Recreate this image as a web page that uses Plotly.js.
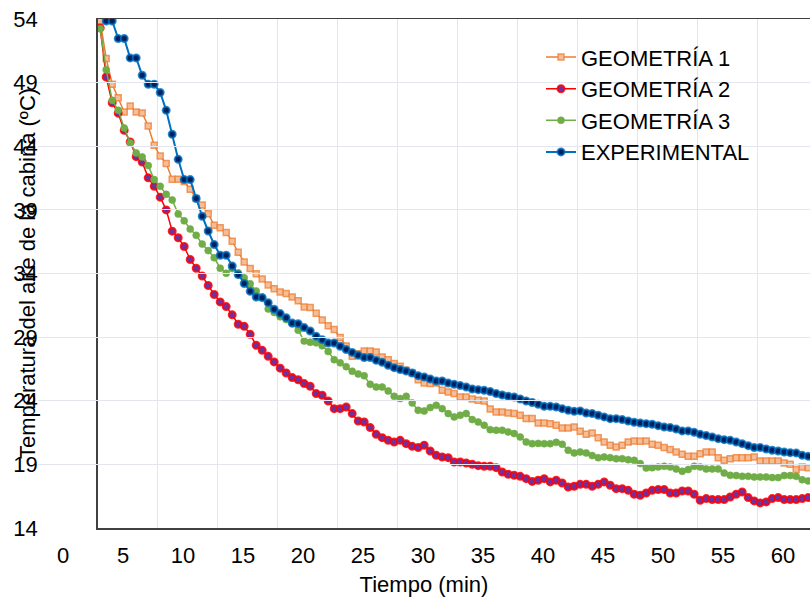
<!DOCTYPE html>
<html>
<head>
<meta charset="utf-8">
<script src="https://cdn.plot.ly/plotly-3.0.1.min.js"></script>
<style>html,body{margin:0;padding:0;background:#fff;}#chart{width:810px;height:601px;}</style>
</head>
<body>
<div id="chart"></div>
<script>
// Time (min)
const time = [3.1,3.6,4.1,4.6,5.1,5.6,6.1,6.6,7.1,7.6,8.1,8.6,9.1,9.6,10.1,10.6,11.1,11.6,12.1,12.6,13.1,13.6,14.1,14.6,15.1,15.6,16.1,16.6,17.1,17.6,18.1,18.6,19.1,19.6,20.1,20.6,21.1,21.6,22.1,22.6,23.1,23.6,24.1,24.6,25.1,25.6,26.1,26.6,27.1,27.6,28.1,28.6,29.1,29.6,30.1,30.6,31.1,31.6,32.1,32.6,33.1,33.6,34.1,34.6,35.1,35.6,36.1,36.6,37.1,37.6,38.1,38.6,39.1,39.6,40.1,40.6,41.1,41.6,42.1,42.6,43.1,43.6,44.1,44.6,45.1,45.6,46.1,46.6,47.1,47.6,48.1,48.6,49.1,49.6,50.1,50.6,51.1,51.6,52.1,52.6,53.1,53.6,54.1,54.6,55.1,55.6,56.1,56.6,57.1,57.6,58.1,58.6,59.1,59.6,60.1,60.6,61.1,61.6,62.1];

const geometria1 = [53.84,50.9,48.87,47.82,46.69,47.16,46.69,46.61,45.59,44.07,43.23,42.64,41.4,41.4,41.23,40.62,39.9,39.38,38.7,37.79,37.6,37.23,36.54,35.67,34.9,34.4,33.99,33.57,33.1,32.81,32.55,32.42,32.16,31.86,31.37,31.32,30.88,30.35,29.9,29.6,28.98,28.3,27.5,27.7,27.91,27.91,27.83,27.44,27.23,26.92,26.71,26.39,26.18,25.66,25.4,25.35,25.4,24.82,24.69,24.56,24.3,24.3,24.14,24.04,23.98,23.35,23.12,23.12,23.04,22.99,22.86,22.6,22.6,22.25,22.25,22.2,22.07,21.86,21.86,21.94,21.6,21.36,21.47,21.1,20.76,20.5,20.37,20.5,20.76,20.84,20.82,20.84,20.58,20.5,20.32,20.16,19.97,19.79,19.63,19.63,19.84,19.97,19.97,19.53,19.32,19.45,19.53,19.53,19.53,19.58,19.27,19.27,19.27,19.27,19.11,19.01,18.59,18.8,18.74];

const geometria2 = [53.3,49.44,47.42,46.6,45.25,44.34,43.18,42.76,41.52,40.85,40.0,39.0,37.33,36.81,36.12,35.1,34.41,33.8,33.06,32.35,31.77,31.4,30.75,30.01,29.85,29.22,28.36,27.96,27.49,27.05,26.56,26.18,25.82,25.65,25.35,25.14,24.56,24.43,23.98,23.38,23.38,23.51,22.99,22.41,22.33,21.89,21.36,21.1,20.89,20.76,20.89,20.63,20.42,20.32,20.5,20.05,19.71,19.58,19.53,19.19,19.19,19.11,19.01,18.9,18.85,18.85,18.74,18.4,18.22,18.14,18.06,17.88,17.66,17.75,17.88,17.62,17.75,17.54,17.22,17.28,17.43,17.43,17.28,17.43,17.62,17.36,17.09,17.09,16.96,16.65,16.57,16.75,16.96,17.02,17.02,16.75,16.75,16.91,16.91,16.65,16.18,16.31,16.23,16.23,16.23,16.44,16.65,16.83,16.39,16.13,15.97,16.05,16.31,16.39,16.23,16.23,16.23,16.31,16.39];

const geometria3 = [53.24,50.02,47.61,46.83,45.44,44.26,43.47,43.16,42.48,41.38,40.85,40.22,39.78,38.68,38.14,37.49,37.0,36.31,35.8,35.24,34.42,34.02,34.4,34.05,33.66,33.2,32.62,32.15,31.21,30.94,30.6,30.38,30.05,29.54,28.69,28.6,28.55,28.32,27.87,27.23,26.98,26.68,26.32,26.1,25.96,25.29,25.08,25.08,24.77,24.35,24.17,24.35,23.83,23.25,23.2,23.46,23.64,23.38,22.99,22.73,22.86,22.99,22.52,22.33,22.07,21.73,21.68,21.68,21.55,21.42,21.15,20.76,20.63,20.65,20.63,20.63,20.73,20.58,20.11,19.9,19.97,19.9,19.69,19.53,19.58,19.53,19.45,19.45,19.37,19.32,19.06,18.72,18.74,18.8,18.85,18.8,18.64,18.46,18.59,18.85,18.8,18.64,18.64,18.64,18.32,18.14,18.12,18.06,18.06,18.01,18.01,18.01,17.96,17.96,18.12,18.12,18.06,17.8,17.7];

const experimental = [null,53.84,53.84,52.46,52.46,50.94,50.94,49.58,48.87,48.87,48.22,46.82,44.94,42.97,41.38,41.38,39.89,38.5,37.34,36.27,35.43,35.43,34.59,33.91,33.21,32.6,32.15,32.1,31.71,31.2,30.85,30.53,30.11,30.06,29.75,29.48,29.06,28.8,28.54,28.54,28.28,28.02,27.8,27.57,27.39,27.39,27.18,27.02,26.79,26.6,26.45,26.34,26.18,25.97,25.87,25.71,25.55,25.55,25.39,25.29,25.19,25.08,24.92,24.87,24.82,24.72,24.56,24.45,24.35,24.29,24.14,23.98,23.86,23.72,23.56,23.56,23.51,23.38,23.25,23.17,23.2,23.04,22.99,22.86,22.73,22.59,22.59,22.52,22.41,22.31,22.25,22.2,22.15,22.04,21.94,21.89,21.78,21.63,21.63,21.52,21.36,21.26,21.15,21.02,20.94,20.89,20.76,20.63,20.47,20.32,20.32,20.21,20.11,20.05,19.97,19.92,19.9,19.71,19.63];

const seriesNames = ['GEOMETRÍA 1', 'GEOMETRÍA 2', 'GEOMETRÍA 3', 'EXPERIMENTAL'];
const xTickVals = [0,5,10,15,20,25,30,35,40,45,50,55,60];
const xTickText = ['0','5','10','15','20','25','30','35','40','45','50','55','60'];
const yTickVals = [14,19,24,29,34,39,44,49,54];
const yTickText = ['14','19','24','29','34','39','44','49','54'];

const FONT = 'Arial, "Liberation Sans", sans-serif';
const GRID = '#e3e6ee';

const traces = [
  {
    x: time, y: geometria1, name: seriesNames[0], type: 'scatter', mode: 'lines+markers',
    line: {color: '#ED7D31', width: 1.5},
    marker: {symbol: 'square', size: 6, color: '#F6BE98', line: {color: 'rgba(237,125,49,0.75)', width: 1.5}}
  },
  {
    x: time, y: geometria2, name: seriesNames[1], type: 'scatter', mode: 'lines+markers',
    line: {color: '#FF0000', width: 1.5},
    marker: {symbol: 'circle', size: 7, color: '#7030A0', line: {color: 'rgba(255,0,0,0.85)', width: 2}}
  },
  {
    x: time, y: geometria3, name: seriesNames[2], type: 'scatter', mode: 'lines+markers',
    line: {color: '#70AD47', width: 1.5},
    marker: {symbol: 'circle', size: 7, color: '#70AD47', line: {color: 'rgba(112,173,71,0.6)', width: 1}}
  },
  {
    x: time, y: experimental, name: seriesNames[3], type: 'scatter', mode: 'lines+markers',
    line: {color: '#0070C0', width: 2},
    marker: {symbol: 'circle', size: 7, color: '#002060', line: {color: 'rgba(0,112,192,0.8)', width: 2}}
  },
  // carrier traces for the label axis and the title axis
  {x: [], y: [], xaxis: 'x2', yaxis: 'y', showlegend: false, hoverinfo: 'skip', type: 'scatter'},
  {x: [], y: [], xaxis: 'x', yaxis: 'y2', showlegend: false, hoverinfo: 'skip', type: 'scatter'}
];

const W = 810, H = 601;
const plotLeft = 97.7;
const labelAxisLeft = 38;
const pxPerMin = 12;
const zeroPx = 63;

const layout = {
  width: W, height: H,
  margin: {l: 0, r: 0, t: 18.7, b: 73.3, pad: 0},
  paper_bgcolor: '#ffffff', plot_bgcolor: 'rgba(0,0,0,0)',
  font: {family: FONT, size: 22, color: '#000000'},
  showlegend: true,
  legend: {
    x: 541 / W, xanchor: 'left', y: 0.966, yanchor: 'top',
    bgcolor: 'rgba(0,0,0,0)', borderwidth: 0,
    font: {family: FONT, size: 22, color: '#000000'}
  },
  xaxis: {
    domain: [plotLeft / W, 1],
    range: [(plotLeft - zeroPx) / pxPerMin, (W - zeroPx) / pxPerMin],
    autorange: false,
    tick0: (plotLeft - zeroPx) / pxPerMin, dtick: 5,
    showticklabels: false, ticks: '',
    showgrid: true, gridcolor: GRID, gridwidth: 1,
    zeroline: false,
    showline: true, linecolor: '#404040', linewidth: 1.5, mirror: true,
    anchor: 'y'
  },
  xaxis2: {
    domain: [labelAxisLeft / W, 1],
    anchor: 'free', position: 0,
    range: [(labelAxisLeft - zeroPx) / pxPerMin, (W - zeroPx) / pxPerMin],
    autorange: false,
    tickmode: 'array', tickvals: xTickVals, ticktext: xTickText,
    tickfont: {family: FONT, size: 22, color: '#000000'},
    ticks: '', ticklabelstandoff: 12,
    showgrid: false, zeroline: false, showline: false,
    title: {text: 'Tiempo (min)', font: {family: FONT, size: 22, color: '#000000'}, standoff: 9}
  },
  yaxis: {
    domain: [0, 1], anchor: 'x',
    range: [14, 54], autorange: false,
    tickmode: 'array', tickvals: yTickVals, ticktext: yTickText,
    tickfont: {family: FONT, size: 22, color: '#000000'},
    ticks: '', ticklabelstandoff: 54,
    showgrid: true, gridcolor: GRID, gridwidth: 1,
    zeroline: false,
    showline: true, linecolor: '#404040', linewidth: 1.5
  },
  yaxis2: {
    overlaying: 'y', anchor: 'x', side: 'left',
    range: [14, 54], autorange: false,
    showticklabels: false, ticks: '', showgrid: false, zeroline: false, showline: false,
    title: {text: 'Temperatura del aire de la cabina (ºC)', font: {family: FONT, size: 22, color: '#000000'}, standoff: 55}
  },
  shapes: [
    {type: 'rect', xref: 'paper', yref: 'paper', layer: 'between',
     x0: 578 / W, x1: 808 / W, y0: (527.7 - 175) / 509, y1: (527.7 - 43) / 509,
     fillcolor: '#ffffff', line: {width: 0}}
  ]
};

Plotly.newPlot('chart', traces, layout, {displayModeBar: false, staticPlot: true});
</script>
</body>
</html>
